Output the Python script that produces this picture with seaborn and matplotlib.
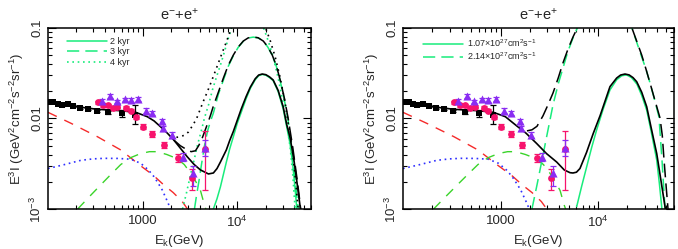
import matplotlib
matplotlib.use("Agg")
import matplotlib.pyplot as plt
import seaborn as sns
import numpy as np
from matplotlib.lines import Line2D
from matplotlib.ticker import LogLocator, NullFormatter, FixedLocator

sns.set_style("ticks")
plt.rcParams['font.family'] = ['Liberation Sans', 'DejaVu Sans']
plt.rcParams['mathtext.fontset'] = 'custom'
plt.rcParams['mathtext.rm'] = 'Liberation Sans'
plt.rcParams['mathtext.it'] = 'Liberation Sans:italic'
plt.rcParams['mathtext.bf'] = 'Liberation Sans:bold'

# ---------------- data points (same in both panels) ----------------
sq_E = [103, 114, 126, 140, 161, 185, 219, 266, 328, 431, 601, 835]
sq_y = [0.01535, 0.0151, 0.01447, 0.0142, 0.0146, 0.01374, 0.0131, 0.01265, 0.0122, 0.0117, 0.0114, 0.0110]
sq_lo = [0.0150, 0.0148, 0.0142, 0.0139, 0.0143, 0.0135, 0.0128, 0.0124, 0.0119, 0.0113, 0.0103, 0.0087]
sq_hi = [0.0157, 0.0154, 0.0148, 0.0145, 0.0149, 0.0140, 0.0134, 0.0129, 0.0125, 0.0121, 0.0124, 0.0142]

pk_E = [335, 380, 430, 485, 542, 673, 748, 850, 1000, 1265, 1660, 2350, 3300, 4600]
pk_y = [0.0151, 0.0140, 0.0140, 0.0131, 0.0135, 0.0132, 0.0122, 0.0104, 0.0081, 0.00675, 0.0051, 0.0037, 0.0022, 0.0046]
pk_lo = [0.0146, 0.0135, 0.0135, 0.0126, 0.0130, 0.0127, 0.0117, 0.0099, 0.0076, 0.0063, 0.0047, 0.0033, 0.00163, 0.00163]
pk_hi = [0.0156, 0.0145, 0.0145, 0.0136, 0.0140, 0.0137, 0.0127, 0.0109, 0.0087, 0.0072, 0.0055, 0.0041, 0.00277, 0.0072]

tr_E = [369, 450, 534, 645, 749, 902, 1095, 1268, 1595, 1620, 2030, 2670, 3430, 4600]
tr_y = [0.0157, 0.0178, 0.0155, 0.0163, 0.0160, 0.0163, 0.0122, 0.0115, 0.0093, 0.0078, 0.00657, 0.0038, 0.00247, 0.00471]
tr_lo = [0.0150, 0.0170, 0.0148, 0.0156, 0.0153, 0.0155, 0.0115, 0.0108, 0.0087, 0.0073, 0.0061, 0.0034, 0.0018, 0.0039]
tr_hi = [0.0164, 0.0186, 0.0162, 0.0170, 0.0167, 0.0171, 0.0129, 0.0122, 0.0099, 0.0083, 0.0071, 0.0042, 0.0030, 0.0058]

# ---------------- background model curves (both panels) ----------------
red_E = [100, 175, 333, 587, 953, 1300, 1676, 2100, 2617, 2977, 3300]
red_y = [0.0117, 0.00885, 0.00629, 0.00449, 0.0030, 0.00235, 0.00184, 0.00152, 0.00121, 0.0010, 0.00082]

blue_E = [100, 150, 222, 300, 392, 550, 748, 953, 1150, 1315, 1470, 1611, 1820, 1970, 2100]
blue_y = [0.0028, 0.0031, 0.00345, 0.00358, 0.00363, 0.00362, 0.00355, 0.0032, 0.0027, 0.00228, 0.0019,
          0.00162, 0.00122, 0.0010, 0.00088]

comp_E = [206, 270, 361, 460, 587, 750, 953, 1180, 1429, 1800, 2317, 2750, 3199, 3650, 4079, 4500, 4800]
comp_y = [0.0010, 0.00135, 0.00185, 0.0024, 0.0031, 0.0037, 0.0041, 0.0043, 0.0043, 0.0040, 0.0036, 0.0031,
          0.0025, 0.0020, 0.0016, 0.0011, 0.0009]

# ---------------- left panel: burst ages ----------------
L_tot2_E = [100, 140, 183, 250, 333, 450, 587, 844, 1120, 1320, 1546, 1820, 2133, 2500, 2955, 3500, 4081,
            4953, 5585, 6100, 6622, 7656, 8300, 9078, 10000, 11020, 12360, 13710, 15450, 16800, 18320,
            20000, 21900, 23930, 27000, 30480, 33300, 36120, 39500, 42850, 46060, 48000]
L_tot2_y = [0.0155, 0.0145, 0.01374, 0.0131, 0.01264, 0.0124, 0.0122, 0.0117, 0.01047, 0.0094, 0.0081,
            0.0069, 0.00578, 0.0047, 0.00378, 0.0031, 0.0027, 0.00244, 0.0025, 0.0028, 0.0033, 0.0045,
            0.0057, 0.0072, 0.0096, 0.0128, 0.0174, 0.0222, 0.0275, 0.0302, 0.0310, 0.0305, 0.0288,
            0.0266, 0.0204, 0.0135, 0.0085, 0.0061, 0.00355, 0.0019, 0.00106, 0.0008]
L_b2_E = [5585, 6100, 6622, 7656, 8300, 9078, 10000, 11020, 12360, 13710, 15450, 16800, 18320, 20000,
          21900, 23930, 27000, 30480, 33300, 36120, 38500, 40810, 42500, 43500]
L_b2_y = [0.0010, 0.0013, 0.00175, 0.0033, 0.0046, 0.0063, 0.0089, 0.0118, 0.0165, 0.0215, 0.0268, 0.0297,
          0.0307, 0.0301, 0.0283, 0.0262, 0.0198, 0.0128, 0.0080, 0.0052, 0.0031, 0.00165, 0.0010, 0.0008]

L_tot3_E = [2133, 2500, 2904, 3250, 3613, 3900, 4180, 4500, 4831, 5200, 5585, 6300, 7125, 8000, 9078, 10200,
            11570, 13000, 14730, 16600, 18780, 21000, 23350, 25800, 28370, 31300, 34390, 38500, 42850,
            45000, 47180]
L_tot3_y = [0.00578, 0.0050, 0.00455, 0.0043, 0.0044, 0.0050, 0.00578, 0.0071, 0.00869, 0.0108, 0.01374,
            0.0195, 0.028, 0.0385, 0.0503, 0.0615, 0.0718, 0.0777, 0.0795, 0.0780, 0.0718, 0.0620, 0.0503,
            0.0385, 0.0266, 0.0170, 0.0101, 0.0048, 0.0021, 0.0014, 0.0009]
L_b3_E = [3524, 3698, 3950, 4180, 4500, 4831, 5200, 5585, 6300, 7125, 8000, 9078, 10200, 11570, 13000,
          14730, 16600, 18780, 21000, 23350, 25800, 28370, 31300, 34390, 38000, 40810, 43000, 44950]
L_b3_y = [0.0010, 0.00139, 0.0021, 0.0031, 0.0050, 0.0072, 0.0093, 0.0115, 0.0185, 0.0266, 0.0375, 0.0495,
          0.0610, 0.0715, 0.0775, 0.0793, 0.0778, 0.0715, 0.0615, 0.0498, 0.0378, 0.0260, 0.0163, 0.0095,
          0.0045, 0.0021, 0.0012, 0.0009]

L_tot4_E = [1971, 2250, 2512, 2780, 3050, 3350, 3698, 4000, 4386, 4800, 5200, 5700, 6310, 6950, 7656, 8650,
            10500, 13030, 16000, 19720, 22300, 25120, 28400, 31990, 35000, 37910, 41000, 43880, 45000]
L_tot4_y = [0.0064, 0.0062, 0.00625, 0.0066, 0.0071, 0.0083, 0.00987, 0.0122, 0.0156, 0.0195, 0.0241, 0.031,
            0.0411, 0.054, 0.070, 0.1, 0.15, 0.18, 0.15, 0.1025, 0.072, 0.0478, 0.028, 0.0148, 0.0080,
            0.00484, 0.0022, 0.0010, 0.0008]
L_b4_E = [2636, 2900, 3199, 3500, 3793, 4150, 4497, 5000, 5458, 6100, 6790, 7700, 8650, 10500, 13030, 16000,
          18780, 21200, 23930, 27000, 30480, 33300, 36120, 38500, 40810, 42000]
L_b4_y = [0.0010, 0.0015, 0.00238, 0.0035, 0.0051, 0.0072, 0.01014, 0.0145, 0.0207, 0.030, 0.0421, 0.066,
          0.1, 0.15, 0.18, 0.15, 0.1025, 0.072, 0.0478, 0.028, 0.0148, 0.0085, 0.00484, 0.0024, 0.0010, 0.0008]

# ---------------- right panel: diffusion coefficients ----------------
R_tot1_E = [100, 140, 183, 250, 333, 450, 587, 844, 1120, 1462, 1820, 2343, 2955, 3767, 4500, 5152, 5527,
            6000, 6516, 7600, 8930, 10500, 13240, 15500, 17000, 18870, 20800, 22800, 24870, 28000, 31490,
            35000, 39900, 44000, 48540, 50000]
R_tot1_y = [0.0155, 0.0145, 0.01374, 0.0131, 0.01264, 0.0124, 0.0122, 0.0117, 0.01047, 0.0083, 0.0069,
            0.0053, 0.0041, 0.0033, 0.0027, 0.00252, 0.0025, 0.00255, 0.0028, 0.0042, 0.00686, 0.0108,
            0.0225, 0.0280, 0.0302, 0.0310, 0.0303, 0.0283, 0.0255, 0.0195, 0.0135, 0.0079, 0.0041,
            0.0021, 0.00106, 0.0009]
R_b1_E = [6030, 6800, 7638, 8600, 9670, 11300, 13240, 15500, 17500, 19640, 22000, 25000, 28000, 31490,
          35000, 39900, 42500, 44880, 46000]
R_b1_y = [0.00106, 0.0018, 0.00293, 0.0048, 0.0075, 0.0128, 0.0207, 0.0268, 0.0297, 0.0303, 0.0283,
          0.0240, 0.0180, 0.0124, 0.0072, 0.00348, 0.0019, 0.00106, 0.0008]

R_tot2_E = [1866, 2100, 2363, 2723, 3050, 3448, 3900, 4365, 4900, 5527, 6124, 8000, 11750, 17000, 22230,
            27990, 31000, 34050, 38500, 43150, 45500, 47420, 50000, 52100]
R_tot2_y = [0.0073, 0.0075, 0.0082, 0.0107, 0.0140, 0.0191, 0.028, 0.0411, 0.058, 0.0795, 0.1, 0.16, 0.2,
            0.16, 0.1, 0.0503, 0.035, 0.0247, 0.0155, 0.0101, 0.0065, 0.00348, 0.0017, 0.0010]
R_b2_E = [2099, 2363, 2661, 2992, 3448, 3900, 4365, 4900, 5527, 6124, 8000, 11750, 17000, 22230, 27540,
          31000, 34050, 38000, 42070, 45190, 48540]
R_b2_y = [0.0010, 0.00184, 0.00348, 0.00657, 0.0141, 0.024, 0.0361, 0.055, 0.0776, 0.1, 0.16, 0.2, 0.16,
          0.1, 0.0503, 0.035, 0.0247, 0.0160, 0.0104, 0.00348, 0.0010]

x_ticks = [1000, 10000]
x_ticklabels = ["1000", "10$^4$"]
y_ticks = [1e-3, 1e-2, 1e-1]
y_ticklabels = ["10$^{-3}$", "0.01", "0.1"]

C_BURST = '#19ec7c'
C_COMP = '#3ad42a'
C_RED = '#f52a2a'
C_BLUE = '#2f2fff'
C_PINK = '#f7136c'
C_PURP = '#8a2cf2'


def line(ax, E, y, color, ls, lw=1.1, z=2):
    sns.lineplot(x=E, y=y, ax=ax, color=color, linestyle=ls, linewidth=lw,
                 errorbar=None, sort=False, estimator=None, zorder=z)


def common(ax):
    line(ax, red_E, red_y, C_RED, (0, (7, 6)), 1.0)
    line(ax, blue_E, blue_y, C_BLUE, (0, (1, 2.2)), 1.2)
    line(ax, comp_E, comp_y, C_COMP, (0, (7, 6)), 1.0)
    for E, y, lo, hi, col, mk, s in [(sq_E, sq_y, sq_lo, sq_hi, 'black', 's', 14),
                                     (pk_E, pk_y, pk_lo, pk_hi, C_PINK, 'o', 24),
                                     (tr_E, tr_y, tr_lo, tr_hi, C_PURP, '^', 34)]:
        yerr = [np.array(y) - np.array(lo), np.array(hi) - np.array(y)]
        ax.errorbar(E, y, yerr=yerr, fmt='none', ecolor=col, elinewidth=0.9,
                    capsize=2, capthick=0.9, zorder=4)
        sns.scatterplot(x=E, y=y, ax=ax, color=col, marker=mk, s=s, linewidth=0, zorder=5)


def style(ax):
    ax.set_xscale('log')
    ax.set_yscale('log')
    ax.set_xlim(100, 6e4)
    ax.set_ylim(1e-3, 0.1)
    ax.xaxis.set_major_locator(FixedLocator(x_ticks))
    ax.set_xticklabels(x_ticklabels)
    ax.xaxis.set_minor_locator(LogLocator(base=10, subs=np.arange(2, 10), numticks=20))
    ax.xaxis.set_minor_formatter(NullFormatter())
    ax.yaxis.set_major_locator(FixedLocator(y_ticks))
    ax.set_yticklabels(y_ticklabels, rotation=90, va='center')
    ax.yaxis.set_minor_locator(LogLocator(base=10, subs=np.arange(2, 10), numticks=20))
    ax.yaxis.set_minor_formatter(NullFormatter())
    ax.tick_params(which='both', direction='in', top=True, right=True, color='black',
                   labelsize=9.5, width=0.8)
    ax.tick_params(which='major', length=6)
    ax.tick_params(which='minor', length=3)
    ax.tick_params(axis='x', pad=4)
    ax.tick_params(axis='y', pad=3)
    for sp in ax.spines.values():
        sp.set_color('black')
        sp.set_linewidth(1.1)
    ax.set_title("e$^{-}$+e$^{+}$", fontsize=10.5, pad=6)
    ax.set_xlabel("E$_{\\rm k}$(GeV)", fontsize=9.5, labelpad=2)
    ax.set_ylabel("E$^3$I (GeV$^2$cm$^{-2}$s$^{-2}$sr$^{-1}$)", fontsize=9.5, labelpad=2)


fig = plt.figure(figsize=(6.78, 2.49), dpi=100)
ax1 = fig.add_axes([48 / 678, 40 / 249, 263 / 678, 181 / 249])
ax2 = fig.add_axes([403 / 678, 40 / 249, 271 / 678, 181 / 249])

# ---- left panel ----
common(ax1)
line(ax1, L_b4_E, L_b4_y, C_BURST, (0, (1, 2.2)), 1.2, 2)
line(ax1, L_tot4_E, L_tot4_y, 'black', (0, (1, 2.6)), 1.2, 3)
line(ax1, L_b3_E, L_b3_y, C_BURST, (0, (8, 4)), 1.1, 2)
line(ax1, L_tot3_E, L_tot3_y, 'black', (0, (9, 4)), 1.1, 3)
line(ax1, L_b2_E, L_b2_y, C_BURST, '-', 1.1, 2)
line(ax1, L_tot2_E, L_tot2_y, 'black', '-', 1.2, 3)
style(ax1)
h1 = [Line2D([], [], color=C_BURST, lw=1.1, ls='-'),
      Line2D([], [], color=C_BURST, lw=1.1, ls=(0, (8, 4))),
      Line2D([], [], color=C_BURST, lw=1.2, ls=(0, (1, 2.2)))]
ax1.legend(h1, ["2 kyr", "3 kyr", "4 kyr"], loc='upper left', bbox_to_anchor=(0.06, 0.97),
           frameon=False, fontsize=6.5, handlelength=4.4, handletextpad=0.3,
           labelspacing=0.15, borderaxespad=0)

# ---- right panel ----
common(ax2)
line(ax2, R_b2_E, R_b2_y, C_BURST, (0, (8, 4)), 1.1, 2)
line(ax2, R_tot2_E, R_tot2_y, 'black', (0, (9, 4)), 1.1, 3)
line(ax2, R_b1_E, R_b1_y, C_BURST, '-', 1.1, 2)
line(ax2, R_tot1_E, R_tot1_y, 'black', '-', 1.2, 3)
style(ax2)
h2 = [Line2D([], [], color=C_BURST, lw=1.1, ls='-'),
      Line2D([], [], color=C_BURST, lw=1.1, ls=(0, (8, 4)))]
ax2.legend(h2, ["1.07$\\times$10$^{27}$cm$^2$s$^{-1}$", "2.14$\\times$10$^{27}$cm$^2$s$^{-1}$"],
           loc='upper left', bbox_to_anchor=(0.06, 0.97), frameon=False, fontsize=6.5,
           handlelength=4.4, handletextpad=0.5, labelspacing=0.15, borderaxespad=0)

fig.savefig("out.png", dpi=100)
